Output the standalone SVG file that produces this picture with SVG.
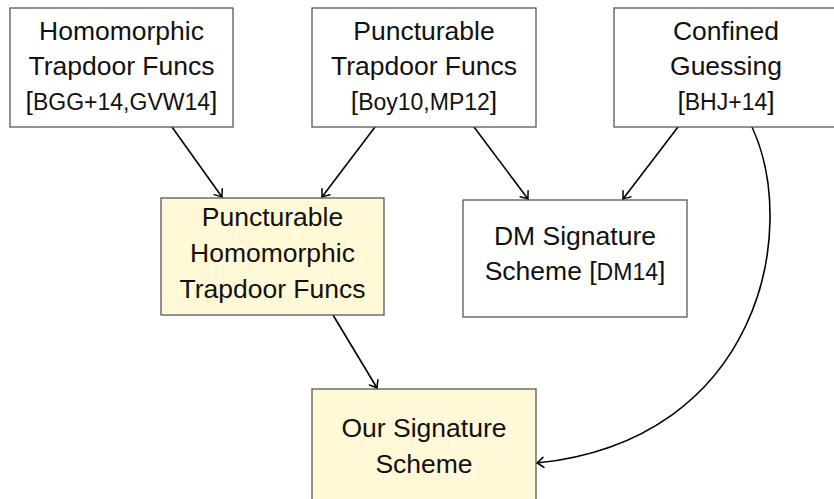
<svg xmlns="http://www.w3.org/2000/svg" width="834" height="499" viewBox="0 0 834 499">
  <defs>
    <style>
      .box { fill: #ffffff; stroke: #4a4a4a; stroke-width: 1.2; }
      .hl { fill: #fff9d8; }
      .t { font-family: "Liberation Sans", Arial, sans-serif; font-size: 26.5px; fill: #111111; text-anchor: middle; }
      .c { font-size: 23px; }
      .edge { fill: none; stroke: #000000; stroke-width: 1.6; marker-end: url(#to); }
    </style>
    <marker id="to" viewBox="-9 -7 11 14" refX="0" refY="0" markerWidth="11" markerHeight="14" markerUnits="userSpaceOnUse" orient="auto">
      <path d="M -6.5,-5 Q -1.5,-1 0,0 Q -1.5,1 -6.5,5" fill="none" stroke="#000000" stroke-width="1.5" stroke-linecap="round"/>
    </marker>
  </defs>

  <!-- connectors -->
  <g id="edges">
    <path class="edge" d="M172,127 L222,197"/>
    <path class="edge" d="M375,127 L322,197"/>
    <path class="edge" d="M474,127 L528,199"/>
    <path class="edge" d="M678,127 L623,199"/>
    <path class="edge" d="M333,315 L377,388"/>
    <path class="edge" d="M752,127 C800,230 760,440 537,463"/>
  </g>

  <g id="homomorphic-tdf">
    <rect class="box" x="10" y="8" width="223" height="119"/>
    <text class="t" x="121.5" y="39.5">Homomorphic</text>
    <text class="t" x="121.5" y="75">Trapdoor Funcs</text>
    <text class="t" x="121.5" y="110">[<tspan class="c">BGG+14,GVW14</tspan>]</text>
  </g>

  <g id="puncturable-tdf">
    <rect class="box" x="312" y="8" width="224" height="119"/>
    <text class="t" x="424" y="39.5">Puncturable</text>
    <text class="t" x="424" y="75">Trapdoor Funcs</text>
    <text class="t" x="424" y="110">[<tspan class="c">Boy10,MP12</tspan>]</text>
  </g>

  <g id="confined-guessing">
    <rect class="box" x="614" y="8" width="224" height="119"/>
    <text class="t" x="726" y="39.5">Confined</text>
    <text class="t" x="726" y="75">Guessing</text>
    <text class="t" x="726" y="110">[<tspan class="c">BHJ+14</tspan>]</text>
  </g>

  <g id="puncturable-homomorphic-tdf">
    <rect class="box hl" x="161" y="198" width="223" height="117"/>
    <text class="t" x="272.5" y="226">Puncturable</text>
    <text class="t" x="272.5" y="262">Homomorphic</text>
    <text class="t" x="272.5" y="298">Trapdoor Funcs</text>
  </g>

  <g id="dm-signature">
    <rect class="box" x="463" y="200" width="224" height="117"/>
    <text class="t" x="575" y="245">DM Signature</text>
    <text class="t" x="575" y="280">Scheme [<tspan class="c">DM14</tspan>]</text>
  </g>

  <g id="our-signature">
    <rect class="box hl" x="312" y="389" width="224" height="117"/>
    <text class="t" x="424" y="437">Our Signature</text>
    <text class="t" x="424" y="473">Scheme</text>
  </g>
</svg>
